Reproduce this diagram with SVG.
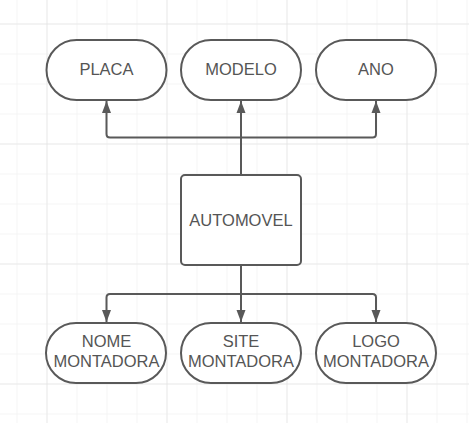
<svg xmlns="http://www.w3.org/2000/svg" width="469" height="423" viewBox="0 0 469 423">
<defs>
<pattern id="g" x="16.5" y="23.5" width="30" height="30" patternUnits="userSpaceOnUse">
<path d="M0 0V30M0 0H30" fill="none" stroke="#ebebeb" stroke-width="1"/>
</pattern>
<pattern id="G" x="46.5" y="23.5" width="120" height="120" patternUnits="userSpaceOnUse">
<path d="M0 0V120M0 0H120" fill="none" stroke="#dedede" stroke-width="1"/>
</pattern>
<marker id="a" markerWidth="12" markerHeight="14" refX="12" refY="4.5" orient="auto" markerUnits="userSpaceOnUse" viewBox="0 0 12 9">
<path d="M0 0L12 4.5L0 9Z" fill="#595959"/>
</marker>
</defs>
<style>
.n{fill:#fff;stroke:#595959;stroke-width:2}
.t{font-family:"Liberation Sans",Arial,sans-serif;font-size:16.5px;fill:#555;text-anchor:middle}
.c{fill:none;stroke:#595959;stroke-width:2}
</style>
<rect width="469" height="423" fill="#fff"/>
<rect width="469" height="423" fill="url(#g)"/>
<rect width="469" height="423" fill="url(#G)"/>
<g id="connectors">
<path class="c" d="M241 175V137.5" />
<path class="c" d="M241 137.5H110Q106.5 137.5 106.5 134V101" marker-end="url(#a)"/>
<path class="c" d="M241 175V101" marker-end="url(#a)"/>
<path class="c" d="M241 137.5H372.5Q376 137.5 376 134V101" marker-end="url(#a)"/>
<path class="c" d="M241 265V294"/>
<path class="c" d="M241 294H110Q106.5 294 106.5 297.5V322" marker-end="url(#a)"/>
<path class="c" d="M241 265V322" marker-end="url(#a)"/>
<path class="c" d="M241 294H372.5Q376 294 376 297.5V322" marker-end="url(#a)"/>
</g>
<g id="placa"><rect class="n" x="46.5" y="40" width="120" height="60" rx="30"/><text class="t" x="106.5" y="75">PLACA</text></g>
<g id="modelo"><rect class="n" x="181" y="40" width="120" height="60" rx="30"/><text class="t" x="241" y="75">MODELO</text></g>
<g id="ano"><rect class="n" x="316" y="40" width="120" height="60" rx="30"/><text class="t" x="376" y="75">ANO</text></g>
<g id="automovel"><rect class="n" x="181" y="175" width="120" height="90" rx="4"/><text class="t" x="241" y="226">AUTOMOVEL</text></g>
<g id="nome"><rect class="n" x="46" y="323" width="120" height="60" rx="30"/><text class="t" x="106.5" y="347">NOME</text><text class="t" x="106.5" y="367">MONTADORA</text></g>
<g id="site"><rect class="n" x="181" y="323" width="120" height="60" rx="30"/><text class="t" x="241" y="347">SITE</text><text class="t" x="241" y="367">MONTADORA</text></g>
<g id="logo"><rect class="n" x="316" y="323" width="120" height="60" rx="30"/><text class="t" x="376" y="347">LOGO</text><text class="t" x="376" y="367">MONTADORA</text></g>
</svg>
